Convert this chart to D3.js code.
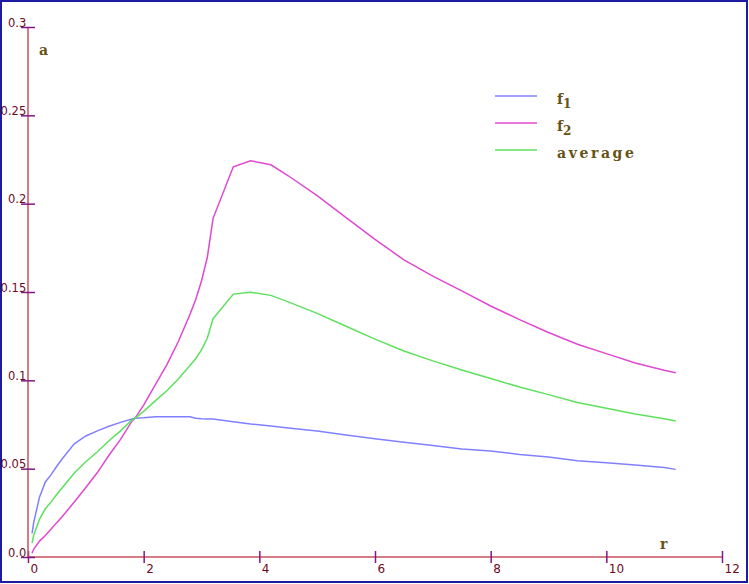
<!DOCTYPE html>
<html>
<head>
<meta charset="utf-8">
<script src="https://cdn.jsdelivr.net/npm/d3@7"></script>
<style>
  html, body { margin: 0; padding: 0; background: #fff; }
  svg { display: block; }
  .tick-label { font-family: "DejaVu Sans", sans-serif; font-size: 12px; fill: #6e0a1e; }
  .y-label { font-size: 11.5px; }
  .axis-title, .legend-text { font-family: "DejaVu Serif", "Liberation Serif", serif; font-weight: bold; font-size: 14px; fill: #665214; }
</style>
</head>
<body>
<div id="chart"></div>
<script>
// r values (x) shared by all series
const r = [0.07, 0.1, 0.2, 0.3, 0.4, 0.5, 0.6, 0.8, 1.0, 1.2, 1.4, 1.6, 1.8, 1.85, 2.0, 2.2, 2.4, 2.6, 2.8, 2.9, 3.0, 3.1, 3.2, 3.55, 3.85, 4.2, 4.5, 5.0, 5.5, 6.0, 6.5, 7.0, 7.5, 8.0, 8.5, 9.0, 9.5, 10.0, 10.5, 11.0, 11.2];
const f1 = [0.0134, 0.0198, 0.034, 0.0425, 0.0466, 0.0515, 0.0559, 0.0641, 0.0685, 0.0714, 0.074, 0.0762, 0.0781, 0.0785, 0.0788, 0.0794, 0.0794, 0.0794, 0.0794, 0.0785, 0.0782, 0.0781, 0.0781, 0.0766, 0.0753, 0.0742, 0.073, 0.0713, 0.0691, 0.0669, 0.0649, 0.0631, 0.0612, 0.06, 0.058, 0.0566, 0.0545, 0.0533, 0.0521, 0.0507, 0.0496];
const f2 = [0.0021, 0.0045, 0.009, 0.0122, 0.0158, 0.0196, 0.0232, 0.0311, 0.0393, 0.0478, 0.0576, 0.0666, 0.077, 0.0785, 0.086, 0.0974, 0.1088, 0.122, 0.1373, 0.1458, 0.1562, 0.1695, 0.1917, 0.2209, 0.2243, 0.222, 0.2158, 0.2045, 0.1921, 0.1798, 0.1682, 0.159, 0.1506, 0.1421, 0.1344, 0.1271, 0.1204, 0.1151, 0.1098, 0.1057, 0.1043];
const average = [0.0078, 0.0125, 0.0215, 0.0273, 0.0312, 0.0355, 0.0395, 0.0476, 0.0539, 0.0596, 0.0658, 0.0714, 0.0776, 0.0785, 0.0824, 0.0884, 0.0941, 0.1007, 0.1084, 0.1122, 0.1172, 0.1238, 0.1349, 0.1488, 0.1498, 0.1481, 0.1444, 0.1379, 0.1306, 0.1233, 0.1166, 0.111, 0.1059, 0.101, 0.0962, 0.0919, 0.0874, 0.0842, 0.081, 0.0782, 0.077];

const xTicks = [0, 2, 4, 6, 8, 10, 12];
const yTicks = [0, 0.05, 0.1, 0.15, 0.2, 0.25, 0.3];
const yTickLabels = ["0.0", "0.05", "0.1", "0.15", "0.2", "0.25", "0.3"];
const seriesNames = ["f1", "f2", "average"];

const W = 749, H = 584;
const colors = { f1: "#8080ff", f2: "#e048d0", average: "#5ee05e" };

const svg = d3.select("#chart").append("svg").attr("width", W).attr("height", H);

svg.append("rect").attr("x", 1).attr("y", 1).attr("width", W - 3).attr("height", H - 3)
  .attr("fill", "#fff").attr("stroke", "#1c1ca0").attr("stroke-width", 2);

const x = d3.scaleLinear().domain([0, 12]).range([28, 722]);
const y = d3.scaleLinear().domain([0, 0.3]).range([557, 27]);

// x axis
const gx = svg.append("g").attr("transform", `translate(0,${y(0)})`)
  .call(d3.axisBottom(x).tickValues(xTicks).tickSize(0).tickFormat(d3.format("d")));
gx.select(".domain").attr("stroke", "#c8505a").attr("stroke-width", 1.5).attr("d", `M${x(0)},0H${x(12)}`);
gx.selectAll(".tick line").attr("stroke", "#801a80").attr("stroke-width", 1.5).attr("y1", -6).attr("y2", 6);
gx.selectAll(".tick text").attr("class", "tick-label").attr("text-anchor", "start")
  .attr("x", 2).attr("y", 16).attr("dy", null);

// y axis
const gy = svg.append("g").attr("transform", `translate(${x(0)},0)`)
  .call(d3.axisLeft(y).tickValues(yTicks).tickSize(0).tickFormat((d, i) => yTickLabels[i]));
gy.select(".domain").attr("stroke", "#c8505a").attr("stroke-width", 1.5).attr("d", `M0,${y(0)}V${y(0.3)}`);
gy.selectAll(".tick line").attr("stroke", "#801a80").attr("stroke-width", 1.5).attr("x1", -7).attr("x2", 7);
gy.selectAll(".tick text").attr("class", "tick-label y-label").attr("text-anchor", "end")
  .attr("x", -1.8).attr("y", -1).attr("dy", null);
svg.selectAll(".tick text").attr("font-family", null).attr("font-size", null).attr("fill", null);

svg.append("text").attr("class", "axis-title").attr("x", 39).attr("y", 55).text("a");
svg.append("text").attr("class", "axis-title").attr("x", 660).attr("y", 549).text("r");

// lines
const seriesData = { f1: f1, f2: f2, average: average };
const line = d3.line().x((d, i) => x(r[i])).y(d => y(d));
seriesNames.forEach(name => {
  svg.append("path").datum(seriesData[name])
    .attr("fill", "none").attr("stroke", colors[name]).attr("stroke-width", 1.5)
    .attr("d", line);
});

// legend
const legend = svg.append("g");
seriesNames.forEach((name, i) => {
  const ly = 96 + i * 27;
  legend.append("line").attr("x1", 495).attr("x2", 537).attr("y1", ly).attr("y2", ly)
    .attr("stroke", colors[name]).attr("stroke-width", 1.5);
  const t = legend.append("text").attr("class", "legend-text").attr("x", 557).attr("y", ly + 7.5);
  if (name === "average") {
    t.attr("letter-spacing", 2.6).text("average");
  } else {
    t.text("f");
    t.append("tspan").attr("dy", 4).attr("font-size", 12).text(name.slice(1));
  }
});
</script>
</body>
</html>
